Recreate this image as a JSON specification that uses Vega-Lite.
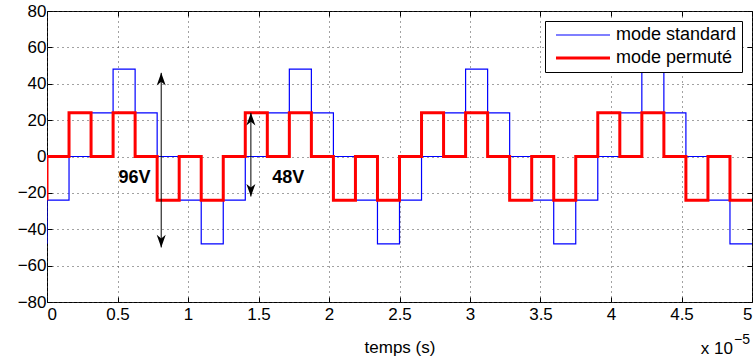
{
  "$schema": "https://vega.github.io/schema/vega-lite/v6.json",
  "width": 705,
  "height": 291,
  "autosize": {"type": "none"},
  "padding": {"left": 47, "top": 11, "right": 3, "bottom": 61},
  "background": "white",
  "datasets": {
    "wave": [
      {"mode": "mode standard", "t": 0, "v": -48},
      {"mode": "mode standard", "t": 0, "v": -24},
      {"mode": "mode standard", "t": 0.15625, "v": 0},
      {"mode": "mode standard", "t": 0.3125, "v": 24},
      {"mode": "mode standard", "t": 0.46875, "v": 48},
      {"mode": "mode standard", "t": 0.625, "v": 24},
      {"mode": "mode standard", "t": 0.78125, "v": 0},
      {"mode": "mode standard", "t": 0.9375, "v": -24},
      {"mode": "mode standard", "t": 1.09375, "v": -48},
      {"mode": "mode standard", "t": 1.25, "v": -24},
      {"mode": "mode standard", "t": 1.40625, "v": 0},
      {"mode": "mode standard", "t": 1.5625, "v": 24},
      {"mode": "mode standard", "t": 1.71875, "v": 48},
      {"mode": "mode standard", "t": 1.875, "v": 24},
      {"mode": "mode standard", "t": 2.03125, "v": 0},
      {"mode": "mode standard", "t": 2.1875, "v": -24},
      {"mode": "mode standard", "t": 2.34375, "v": -48},
      {"mode": "mode standard", "t": 2.5, "v": -24},
      {"mode": "mode standard", "t": 2.65625, "v": 0},
      {"mode": "mode standard", "t": 2.8125, "v": 24},
      {"mode": "mode standard", "t": 2.96875, "v": 48},
      {"mode": "mode standard", "t": 3.125, "v": 24},
      {"mode": "mode standard", "t": 3.28125, "v": 0},
      {"mode": "mode standard", "t": 3.4375, "v": -24},
      {"mode": "mode standard", "t": 3.59375, "v": -48},
      {"mode": "mode standard", "t": 3.75, "v": -24},
      {"mode": "mode standard", "t": 3.90625, "v": 0},
      {"mode": "mode standard", "t": 4.0625, "v": 24},
      {"mode": "mode standard", "t": 4.21875, "v": 48},
      {"mode": "mode standard", "t": 4.375, "v": 24},
      {"mode": "mode standard", "t": 4.53125, "v": 0},
      {"mode": "mode standard", "t": 4.6875, "v": -24},
      {"mode": "mode standard", "t": 4.84375, "v": -48},
      {"mode": "mode standard", "t": 5, "v": -48},
      {"mode": "mode permuté", "t": 0, "v": -24},
      {"mode": "mode permuté", "t": 0, "v": 0},
      {"mode": "mode permuté", "t": 0.15625, "v": 24},
      {"mode": "mode permuté", "t": 0.3125, "v": 0},
      {"mode": "mode permuté", "t": 0.46875, "v": 24},
      {"mode": "mode permuté", "t": 0.625, "v": 0},
      {"mode": "mode permuté", "t": 0.78125, "v": -24},
      {"mode": "mode permuté", "t": 0.9375, "v": 0},
      {"mode": "mode permuté", "t": 1.09375, "v": -24},
      {"mode": "mode permuté", "t": 1.25, "v": 0},
      {"mode": "mode permuté", "t": 1.40625, "v": 24},
      {"mode": "mode permuté", "t": 1.5625, "v": 0},
      {"mode": "mode permuté", "t": 1.71875, "v": 24},
      {"mode": "mode permuté", "t": 1.875, "v": 0},
      {"mode": "mode permuté", "t": 2.03125, "v": -24},
      {"mode": "mode permuté", "t": 2.1875, "v": 0},
      {"mode": "mode permuté", "t": 2.34375, "v": -24},
      {"mode": "mode permuté", "t": 2.5, "v": 0},
      {"mode": "mode permuté", "t": 2.65625, "v": 24},
      {"mode": "mode permuté", "t": 2.8125, "v": 0},
      {"mode": "mode permuté", "t": 2.96875, "v": 24},
      {"mode": "mode permuté", "t": 3.125, "v": 0},
      {"mode": "mode permuté", "t": 3.28125, "v": -24},
      {"mode": "mode permuté", "t": 3.4375, "v": 0},
      {"mode": "mode permuté", "t": 3.59375, "v": -24},
      {"mode": "mode permuté", "t": 3.75, "v": 0},
      {"mode": "mode permuté", "t": 3.90625, "v": 24},
      {"mode": "mode permuté", "t": 4.0625, "v": 0},
      {"mode": "mode permuté", "t": 4.21875, "v": 24},
      {"mode": "mode permuté", "t": 4.375, "v": 0},
      {"mode": "mode permuté", "t": 4.53125, "v": -24},
      {"mode": "mode permuté", "t": 4.6875, "v": 0},
      {"mode": "mode permuté", "t": 4.84375, "v": -24},
      {"mode": "mode permuté", "t": 5, "v": -24}
    ],
    "arrows": [
      {"label": "96V", "t": 0.81, "top": 46, "bottom": -50, "tx": 0.507, "ty": -14.8},
      {"label": "48V", "t": 1.446, "top": 24, "bottom": -22, "tx": 1.597, "ty": -14.4}
    ],
    "note": [
      {"t": 5, "v": -80, "base": "x 10", "exp": "−5"}
    ]
  },
  "layer": [
    {
      "data": {"name": "wave"},
      "transform": [{"filter": "datum.mode === 'mode standard'"}],
      "mark": {"type": "line", "interpolate": "step-after", "clip": true},
      "encoding": {
        "x": {"field": "t", "type": "quantitative",
              "scale": {"domain": [0, 5], "nice": false, "zero": false},
              "axis": {"orient": "bottom", "values": [0, 0.5, 1, 1.5, 2, 2.5, 3, 3.5, 4, 4.5, 5], "format": "~g", "title": "temps (s)", "grid": true, "labelPadding": 9, "titlePadding": 17}},
        "y": {"field": "v", "type": "quantitative",
              "scale": {"domain": [-80, 80], "nice": false, "zero": false},
              "axis": {"orient": "left", "values": [-80, -60, -40, -20, 0, 20, 40, 60, 80], "title": null, "grid": true, "labelPadding": 6}},
        "color": {"field": "mode", "type": "nominal",
                  "scale": {"domain": ["mode standard", "mode permuté"], "range": ["#0000ff", "#ff0000"]}},
        "strokeWidth": {"field": "mode", "type": "nominal",
                  "scale": {"domain": ["mode standard", "mode permuté"], "range": [1.2, 3]}}
      }
    },
    {
      "data": {"name": "wave"},
      "transform": [{"filter": "datum.mode === 'mode permuté'"}],
      "mark": {"type": "line", "interpolate": "step-after", "clip": true},
      "encoding": {
        "x": {"field": "t", "type": "quantitative",
              "axis": {"orient": "top", "values": [0, 0.5, 1, 1.5, 2, 2.5, 3, 3.5, 4, 4.5, 5], "labels": false, "title": null, "grid": false}},
        "y": {"field": "v", "type": "quantitative",
              "axis": {"orient": "right", "values": [-80, -60, -40, -20, 0, 20, 40, 60, 80], "labels": false, "title": null, "grid": false}},
        "color": {"field": "mode", "type": "nominal"},
        "strokeWidth": {"field": "mode", "type": "nominal"}
      }
    },
    {
      "data": {"name": "arrows"},
      "mark": {"type": "rule", "color": "black", "strokeWidth": 1},
      "encoding": {
        "x": {"field": "t", "type": "quantitative", "axis": null},
        "y": {"field": "top", "type": "quantitative", "axis": null},
        "y2": {"field": "bottom"}
      }
    },
    {
      "data": {"name": "arrows"},
      "mark": {"type": "point", "shape": "M0,0L0.5,1.4L0,1L-0.5,1.4Z", "size": 324, "filled": true, "color": "black", "opacity": 1, "strokeWidth": 0},
      "encoding": {
        "x": {"field": "t", "type": "quantitative", "axis": null},
        "y": {"field": "top", "type": "quantitative", "axis": null}
      }
    },
    {
      "data": {"name": "arrows"},
      "mark": {"type": "point", "shape": "M0,0L0.5,-1.4L0,-1L-0.5,-1.4Z", "size": 324, "filled": true, "color": "black", "opacity": 1, "strokeWidth": 0},
      "encoding": {
        "x": {"field": "t", "type": "quantitative", "axis": null},
        "y": {"field": "bottom", "type": "quantitative", "axis": null}
      }
    },
    {
      "data": {"name": "arrows"},
      "mark": {"type": "text", "font": "Liberation Sans", "fontSize": 18, "fontWeight": "bold", "align": "left", "baseline": "alphabetic", "color": "black"},
      "encoding": {
        "x": {"field": "tx", "type": "quantitative", "axis": null},
        "y": {"field": "ty", "type": "quantitative", "axis": null},
        "text": {"field": "label"}
      }
    },
    {
      "data": {"name": "note"},
      "mark": {"type": "text", "font": "Liberation Sans", "fontSize": 17, "align": "right", "baseline": "alphabetic", "dx": -19, "dy": 52, "color": "black"},
      "encoding": {
        "x": {"field": "t", "type": "quantitative", "axis": null},
        "y": {"field": "v", "type": "quantitative", "axis": null},
        "text": {"field": "base"}
      }
    },
    {
      "data": {"name": "note"},
      "mark": {"type": "text", "font": "Liberation Sans", "fontSize": 14, "align": "left", "baseline": "alphabetic", "dx": -18, "dy": 41.5, "color": "black"},
      "encoding": {
        "x": {"field": "t", "type": "quantitative", "axis": null},
        "y": {"field": "v", "type": "quantitative", "axis": null},
        "text": {"field": "exp"}
      }
    }
  ],
  "resolve": {"axis": {"x": "independent", "y": "independent"}},
  "config": {
    "font": "Liberation Sans",
    "view": {"stroke": "black", "strokeWidth": 1},
    "axis": {
      "domain": false,
      "labelFont": "Liberation Sans",
      "labelFontSize": 17,
      "labelColor": "black",
      "tickColor": "black",
      "tickSize": -5,
      "tickWidth": 1,
      "gridColor": "#444444",
      "gridDash": [1, 4],
      "gridWidth": 1,
      "gridOpacity": 1,
      "titleFont": "Liberation Sans",
      "titleFontSize": 17,
      "titleFontWeight": "normal",
      "titleColor": "black"
    },
    "legend": {
      "orient": "top-right",
      "offset": 10,
      "title": null,
      "fillColor": "white",
      "strokeColor": "black",
      "padding": 5,
      "labelFont": "Liberation Sans",
      "labelFontSize": 18,
      "labelColor": "black",
      "symbolType": "M-5.4,0H5.4",
      "symbolSize": 100,
      "symbolOffset": 24,
      "labelOffset": 24,
      "rowPadding": 5
    }
  }
}
